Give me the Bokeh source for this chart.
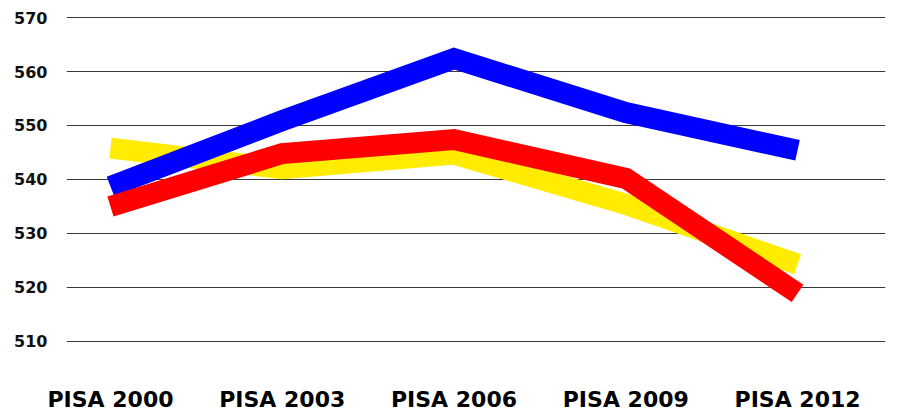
from bokeh.plotting import figure
from bokeh.models import FixedTicker, Range1d
from bokeh.embed import file_html
from bokeh.resources import INLINE

# Data
categories = ["PISA 2000", "PISA 2003", "PISA 2006", "PISA 2009", "PISA 2012"]
yellow_values = [545.8, 542.0, 544.7, 535.4, 524.3]
blue_values = [538.7, 550.9, 562.4, 552.4, 545.4]
red_values = [535.0, 544.8, 547.4, 540.2, 518.9]
y_ticks = [510, 520, 530, 540, 550, 560, 570]

idx = list(range(len(categories)))

p = figure(width=889, height=414, output_backend="svg", toolbar_location=None,
           x_range=Range1d(-0.256, 4.512), y_range=Range1d(504.06, 571.3),
           min_border_left=66, min_border_right=4, min_border_top=10, min_border_bottom=0)
p.outline_line_color = None
p.background_fill_color = "white"
p.border_fill_color = "white"

for vals, col in [(yellow_values, "#ffec00"), (blue_values, "#0000ff"), (red_values, "#ff0000")]:
    p.line(idx, vals, line_color=col, line_width=21, line_join="miter", line_cap="butt")

p.xgrid.grid_line_color = None
p.ygrid.grid_line_color = "#3a3a3a"
p.ygrid.grid_line_width = 1.2
p.ygrid.ticker = FixedTicker(ticks=y_ticks)

p.yaxis.ticker = FixedTicker(ticks=y_ticks)
p.yaxis.axis_line_color = None
p.yaxis.major_tick_line_color = None
p.yaxis.minor_tick_line_color = None
p.yaxis.major_label_standoff = 13
p.yaxis.major_label_text_font = "DejaVu Sans"
p.yaxis.major_label_text_font_style = "bold"
p.yaxis.major_label_text_font_size = "16px"
p.yaxis.major_label_text_color = "#111111"

p.xaxis.ticker = FixedTicker(ticks=idx)
p.xaxis.major_label_overrides = {i: c for i, c in zip(idx, categories)}
p.xaxis.axis_line_color = None
p.xaxis.major_tick_line_color = None
p.xaxis.minor_tick_line_color = None
p.xaxis.major_label_standoff = 7
p.xaxis.major_label_text_font = "DejaVu Sans"
p.xaxis.major_label_text_font_style = "bold"
p.xaxis.major_label_text_font_size = "22px"
p.xaxis.major_label_text_color = "#000000"

open("out.html", "w").write(file_html(p, INLINE))
